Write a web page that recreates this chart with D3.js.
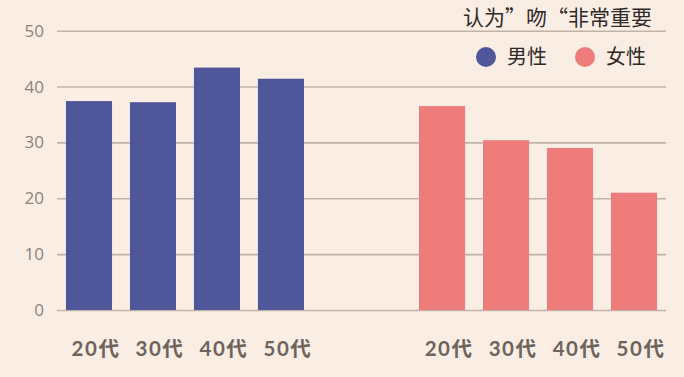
<!DOCTYPE html>
<html>
<head>
<meta charset="utf-8">
<script src="https://cdn.jsdelivr.net/npm/d3@7/dist/d3.min.js"></script>
<style>
  html, body { margin: 0; padding: 0; background: #faede4; }
  svg { display: block; }
</style>
</head>
<body>
<svg id="chart" width="684" height="377"></svg>
<script>
const ages = ["20代", "30代", "40代", "50代"];
const groups = ["男性", "女性"];
const maleValues = [37.4, 37.2, 43.4, 41.4];
const femaleValues = [36.5, 30.4, 29.0, 21.0];
const yTicks = [0, 10, 20, 30, 40, 50];
const title = "认为”吻“非常重要";
const colors = { "男性": "#4f5699", "女性": "#ee7c7a" };

(function () {
const svg = d3.select("#chart");
const W = 684, H = 377;
const plotLeft = 57, plotRight = 666, plotTop = 30.7, plotBottom = 310;

const y = d3.scaleLinear().domain([0, 50]).range([plotBottom, plotTop]);
const xGroup = d3.scaleBand().domain(groups).range([plotLeft, plotRight]).paddingInner(0.275).paddingOuter(0);
const xAge = d3.scaleBand().domain(ages).range([0, xGroup.bandwidth()]).paddingInner(0.28).paddingOuter(0.14);

svg.append("rect").attr("width", W).attr("height", H).attr("fill", "#faede4");

// Y axis
const yAxis = d3.axisLeft(y).tickValues(yTicks).tickSize(-(plotRight - plotLeft)).tickPadding(13);
const gy = svg.append("g").attr("transform", `translate(${plotLeft},0)`).call(yAxis);
gy.select(".domain").remove();
gy.selectAll(".tick line").attr("stroke", "#c2b3a8").attr("stroke-width", 1.6);
gy.selectAll(".tick text")
  .attr("fill", "#8d8379")
  .style("font-family", "'Open Sans', 'Noto Sans', sans-serif")
  .style("font-size", "17px");

const data = [
  { group: "男性", values: maleValues },
  { group: "女性", values: femaleValues }
];

data.forEach(d => {
  const g = svg.append("g").attr("transform", `translate(${xGroup(d.group)},0)`);
  g.selectAll("rect")
    .data(d.values.map((v, i) => ({ age: ages[i], v })))
    .join("rect")
    .attr("x", e => xAge(e.age))
    .attr("width", xAge.bandwidth())
    .attr("y", e => y(e.v))
    .attr("height", e => y(0) - y(e.v))
    .attr("fill", colors[d.group]);

  const xAxis = d3.axisBottom(xAge).tickSize(0).tickPadding(0);
  const gx = g.append("g").attr("transform", `translate(7,${plotBottom + 46})`).call(xAxis);
  gx.select(".domain").remove();
  gx.selectAll(".tick text")
    .attr("dy", "0")
    .attr("fill", "#6d645c")
    .style("font-family", "Lato, 'Noto Sans CJK SC', sans-serif")
    .style("font-weight", "700")
    .style("letter-spacing", "1.5px")
    .style("font-size", "20.5px");
});

// Title
svg.append("text")
  .attr("x", 652).attr("y", 25)
  .attr("text-anchor", "end")
  .attr("fill", "#2f2a28")
  .style("font-family", "'Noto Sans CJK SC', sans-serif")
  .style("font-size", "21px")
  .text(title);

// Legend
const legendX = [486, 585];
groups.forEach((gname, i) => {
  svg.append("circle").attr("cx", legendX[i]).attr("cy", 57).attr("r", 10).attr("fill", colors[gname]);
  svg.append("text")
    .attr("x", legendX[i] + 21).attr("y", 64)
    .attr("fill", "#2f2a28")
    .style("font-family", "'Noto Sans CJK SC', sans-serif")
    .style("font-size", "20px")
    .text(gname);
});
})();
</script>
</body>
</html>
